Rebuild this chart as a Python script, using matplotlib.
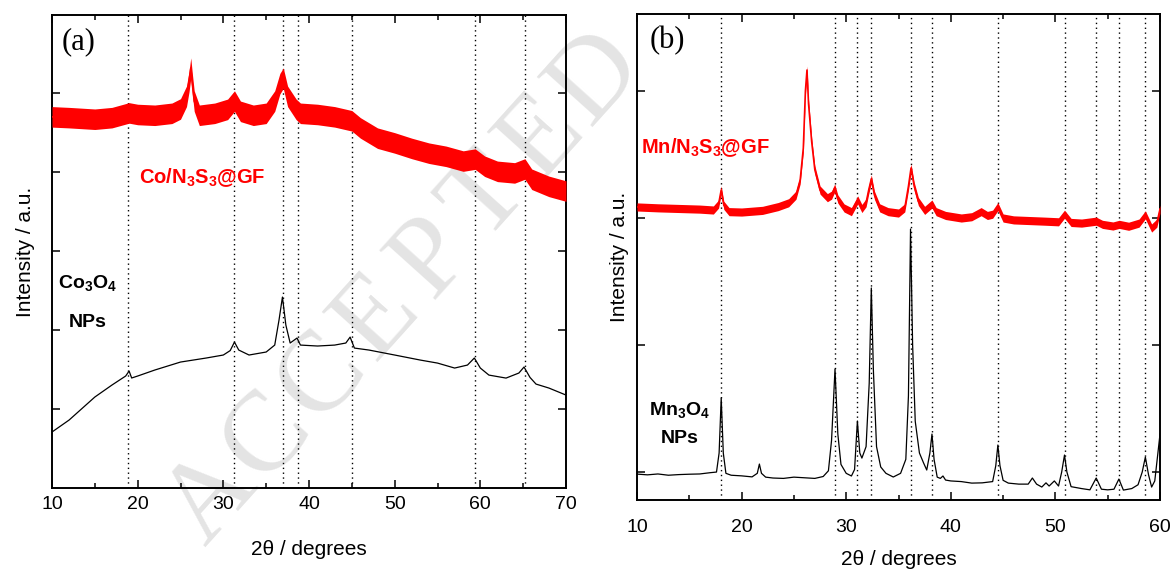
import matplotlib
matplotlib.use("Agg")
import matplotlib.pyplot as plt
from matplotlib.ticker import MultipleLocator
import numpy as np

plt.rcParams['font.family'] = ['Liberation Sans', 'DejaVu Sans']
plt.rcParams['mathtext.fontset'] = 'custom'
plt.rcParams['mathtext.rm'] = 'Liberation Sans'
plt.rcParams['mathtext.bf'] = 'Liberation Sans:bold'
plt.rcParams['mathtext.it'] = 'Liberation Sans:italic'

# ---------------- Panel (a) data ----------------
co_np_x = [10, 12, 15, 17, 18.6, 19.0, 19.3, 20, 22, 25, 28, 30, 30.8, 31.3, 31.8, 33, 35, 36.0,
           36.5, 36.9, 37.3, 37.8, 38.6, 39, 41, 43, 44.3, 44.8, 45.3, 47, 50, 53, 55, 57, 58.5,
           59.3, 60, 61, 63, 64.5, 65.1, 65.8, 66.5, 68, 70]
co_np_y = [709, 861, 1152, 1304, 1418, 1481, 1393, 1418, 1494, 1595, 1646, 1684, 1740, 1848, 1747,
           1684, 1722, 1810, 2127, 2418, 2063, 1836, 1899, 1810, 1798, 1810, 1836, 1911, 1772, 1747,
           1684, 1620, 1582, 1519, 1557, 1646, 1519, 1430, 1392, 1456, 1532, 1400, 1316, 1266, 1177]

co_gf_x = [10, 12, 15, 17, 19, 20, 22, 24, 25, 25.7, 26.0, 26.2, 26.4, 26.6, 27.2, 29, 30.5, 31.3,
           32, 33.5, 35, 36.0, 36.6, 37.0, 37.5, 38.5, 39, 41, 43, 45, 46, 48, 50, 52, 54, 56, 58,
           59.4, 60.5, 62, 64, 65.2, 66, 68, 70]
co_gf_y = [4700, 4690, 4670, 4690, 4750, 4730, 4720, 4745, 4800, 4960, 5150, 5317, 5100, 4900,
           4720, 4745, 4795, 4900, 4770, 4720, 4745, 4900, 5120, 5190, 4960, 4795, 4745, 4730,
           4700, 4650, 4560, 4430, 4370, 4300, 4240, 4200, 4140, 4165, 4075, 4010, 3990, 4040,
           3910, 3820, 3760]
co_gf_noise = 130  # half-width of the noise band

co_ref_lines = [18.9, 31.3, 37.0, 38.7, 45.0, 59.4, 65.2]

# ---------------- Panel (b) data ----------------
mn_np_x = [10.0, 11, 12, 13, 14, 15, 16, 17, 17.6, 17.85, 18.05, 18.25, 18.5, 19.0, 20, 21, 21.5,
           21.7, 21.9, 22.3, 23, 24, 25, 26, 27, 27.8, 28.3, 28.6, 28.93, 29.2, 29.5, 30.0, 30.5,
           30.8, 31.07, 31.3, 31.5, 31.9, 32.2, 32.4, 32.6, 32.9, 33.3, 33.8, 34.5, 35.2, 35.7,
           35.95, 36.15, 36.35, 36.6, 37.0, 37.4, 37.7, 38.0, 38.2, 38.4, 38.7, 39.0, 39.25, 39.5,
           40, 41, 42, 43, 44.0, 44.3, 44.5, 44.7, 45.0, 45.5, 46.5, 47.4, 47.8, 48.2, 48.7, 49.1,
           49.4, 49.9, 50.3, 50.6, 50.87, 51.1, 51.5, 52.5, 53.3, 53.9, 54.4, 55.0, 55.6, 56.07,
           56.5, 57.3, 57.9, 58.3, 58.6, 58.9, 59.2, 59.5, 59.8, 60.0]
mn_np_y = [984, 978, 985, 975, 980, 983, 985, 995, 1000, 1150, 1583, 1150, 990, 975, 970, 962, 990,
           1063, 990, 960, 953, 950, 960, 955, 950, 965, 1010, 1250, 1811, 1300, 1060, 990, 969,
           1020, 1402, 1150, 1110, 1200, 1700, 2449, 1800, 1200, 1040, 990, 961, 990, 1100,
           1600, 2913, 2000, 1400, 1150, 1071, 1016, 1150, 1299, 1100, 960, 950, 969, 937,
           930, 925, 913, 915, 925, 1050, 1213, 1050, 935, 913, 905, 905, 953, 905, 882, 915,
           890, 930, 890, 1000, 1134, 1000, 885, 870, 860, 953, 865, 860, 865, 945,
           858, 870, 900, 1000, 1118, 980, 882, 930, 1150, 1299]

mn_gf_x = [10, 12, 14, 16, 17.3, 17.8, 18.05, 18.3, 18.8, 20, 22, 23.5, 24.5, 25.2, 25.6, 25.9,
           26.1, 26.25, 26.4, 26.7, 27.0, 27.5, 28.2, 28.6, 28.9, 29.2, 29.8, 30.5, 31.1, 31.5,
           31.9, 32.15, 32.4, 32.7, 33.2, 34, 35, 35.6, 35.95, 36.2, 36.5, 36.9, 37.5, 38.2,
           38.6, 39.5, 41, 42, 42.9, 43.5, 44.0, 44.5, 45.0, 46, 47.5, 49, 50.3, 50.87, 51.5,
           52.5, 53.9, 54.5, 55.5, 56.1, 57, 58.0, 58.6, 59.2, 59.7, 60]
mn_gf_y = [3087, 3080, 3075, 3070, 3063, 3110, 3220, 3100, 3050, 3047, 3060, 3090, 3120, 3180,
           3300, 3550, 4000, 4165, 3900, 3600, 3380, 3220, 3160, 3180, 3236, 3150, 3079, 3050,
           3142, 3075, 3120, 3220, 3307, 3180, 3080, 3050, 3039, 3080, 3250, 3394, 3250, 3130,
           3060, 3110, 3050, 3020, 3000, 3010, 3050, 3020, 3030, 3090, 3000, 2985, 2980, 2975,
           2970, 3030, 2965, 2960, 2975, 2950, 2937, 2950, 2935, 2960, 3025, 2921, 2960, 3070]
mn_gf_noise = 32

mn_ref_lines = [18.05, 28.93, 31.07, 32.37, 36.15, 38.2, 44.5, 50.87, 53.86, 56.07, 58.6]

# watermark letters and their approximate centres in figure pixels
wm_letters = list('ACCEPTED')
wm_px = [212, 267, 322, 377, 432, 487, 542, 597]
wm_py = [498, 438, 378, 318, 258, 198, 138, 78]

RED = '#ff0000'
W, H = 1174, 576

fig = plt.figure(figsize=(11.74, 5.76), dpi=100)

for ch, px, py in zip(wm_letters, wm_px, wm_py):
    fig.text(px / W, 1 - py / H, ch, fontsize=82, family='Liberation Serif',
             color='#e4e4e4', rotation=48, rotation_mode='anchor', ha='center',
             va='center', zorder=0.5)

axa = fig.add_axes([52 / W, 1 - 488 / H, (566 - 52) / W, (488 - 15) / H])
axb = fig.add_axes([637 / W, 1 - 500 / H, (1160 - 637) / W, (500 - 14) / H])

for ax in (axa, axb):
    ax.set_zorder(1)
    ax.patch.set_alpha(0)
    for s in ax.spines.values():
        s.set_linewidth(1.4)
    ax.tick_params(which='both', direction='in', top=True, right=True, labelleft=False,
                   labelsize=14, width=1.1)
    ax.tick_params(which='major', length=6)
    ax.tick_params(which='minor', length=3.5)
    ax.xaxis.set_major_locator(MultipleLocator(10))
    ax.xaxis.set_minor_locator(MultipleLocator(5))

axa.tick_params(axis='x', which='major', pad=6)
axb.tick_params(axis='x', which='major', pad=14)
axa.set_xlabel('2θ / degrees', fontsize=15, labelpad=19)
axb.set_xlabel('2θ / degrees', fontsize=15, labelpad=10)
axa.set_ylabel('Intensity / a.u.', fontsize=15, labelpad=12)
axb.set_ylabel('Intensity / a.u.', fontsize=15, labelpad=6)

# panel (a)
for xv in co_ref_lines:
    axa.axvline(xv, color='k', ls=(0, (1, 2.5)), lw=1.0, zorder=1)
axa.plot(co_np_x, co_np_y, color='k', lw=0.9, zorder=3)
cg = np.array(co_gf_y)
axa.fill_between(co_gf_x, cg - co_gf_noise, cg + co_gf_noise, color=RED, lw=0, zorder=3)
axa.plot(co_gf_x, co_gf_y, color=RED, lw=1.2, zorder=3)
axa.set_xlim(10, 70)
axa.set_ylim(0, 5990)
axa.set_yticks([1000, 2000, 3000, 4000, 5000])
axa.text(0.018, 0.975, '(a)', transform=axa.transAxes, fontsize=22, family='Liberation Serif',
         va='top', ha='left')
axa.text(27.5, 3925, r'Co/N$_\mathbf{3}$S$_\mathbf{3}$@GF', color=RED, fontsize=14.5,
         fontweight='bold', ha='center', va='center')
axa.text(14.2, 2595, r'Co$_\mathbf{3}$O$_\mathbf{4}$', fontsize=14, fontweight='bold',
         ha='center', va='center')
axa.text(14.2, 2100, 'NPs', fontsize=14, fontweight='bold', ha='center', va='center')

# panel (b)
for xv in mn_ref_lines:
    axb.axvline(xv, color='k', ls=(0, (1, 2.5)), lw=1.0, zorder=1)
axb.plot(mn_np_x, mn_np_y, color='k', lw=0.9, zorder=3)
mg = np.array(mn_gf_y)
axb.fill_between(mn_gf_x, mg - mn_gf_noise, mg + mn_gf_noise, color=RED, lw=0, zorder=3)
axb.plot(mn_gf_x, mn_gf_y, color=RED, lw=1.2, zorder=3)
axb.set_xlim(10, 60)
axb.set_ylim(780, 4606)
axb.set_yticks([1000, 2000, 3000, 4000])
axb.text(0.025, 0.975, '(b)', transform=axb.transAxes, fontsize=22, family='Liberation Serif',
         va='top', ha='left')
axb.text(10.4, 3551, r'Mn/N$_\mathbf{3}$S$_\mathbf{3}$@GF', color=RED, fontsize=14.5,
         fontweight='bold', ha='left', va='center')
axb.text(14.1, 1488, r'Mn$_\mathbf{3}$O$_\mathbf{4}$', fontsize=14, fontweight='bold',
         ha='center', va='center')
axb.text(14.1, 1268, 'NPs', fontsize=14, fontweight='bold', ha='center', va='center')

fig.savefig('out.png', dpi=100)
